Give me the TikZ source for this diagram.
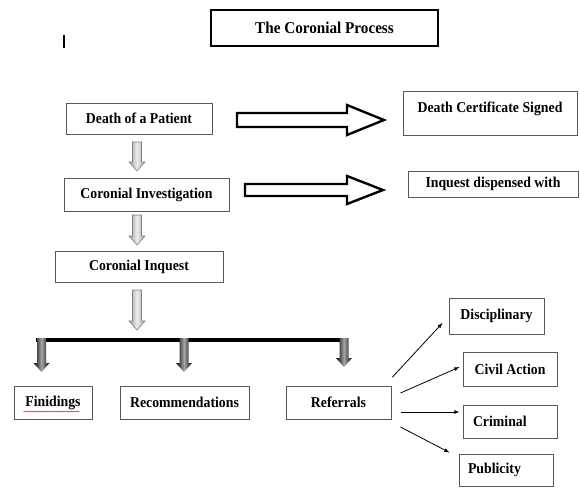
\documentclass[tikz,border=0pt]{standalone}
\usepackage{fontspec}
\setmainfont{Liberation Serif}[FakeStretch=0.92]
\usepackage{xcolor}
\usetikzlibrary{decorations.pathmorphing}
\definecolor{boxline}{rgb}{0.35,0.35,0.35}

% vertical block arrow: style, x, top, tip, half shaft
\newcommand{\vblockarrow}[5]{%
  \path[#1] (#2-#5,#3) -- (#2+#5,#3) -- (#2+#5,#4-9) -- (#2+8,#4-9) -- (#2,#4)
    -- (#2-8,#4-9) -- (#2-#5,#4-9) -- cycle;}

\begin{document}
\begin{tikzpicture}[x=1pt,y=-1pt,font=\fontsize{15}{17}\selectfont\bfseries]
    \useasboundingbox (0,0) rectangle (580,488);

    \tikzstyle{box}=[draw=boxline,line width=1pt,inner sep=0pt,align=center]
    \tikzstyle{title}=[draw=black,line width=2.5pt,minimum width=227pt,minimum height=36pt,font=\fontsize{16.5}{18}\selectfont\bfseries]
    \tikzstyle{hollow}=[draw=black,line width=2.4pt,fill=white,line join=miter]
    \tikzstyle{grey}=[draw=gray,line width=0.6pt,left color=gray!75,right color=gray!75,middle color=gray!15]
    \tikzstyle{dark}=[left color=black,right color=black,middle color=gray!70]
    \tikzstyle{fwd}=[draw=black,line width=0.8pt,-latex]

    \node[title] (title) at (324.5,28) {The Coronial Process};
    \draw[line width=1.2pt] (64,35) -- (64,48);

    \node[box,minimum width=146pt,minimum height=31pt] (death) at (139,118.5) {Death of a Patient};
    \node[box,minimum width=174pt,minimum height=44pt,text height=10pt,text depth=12pt] (cert) at (490,113) {Death Certificate Signed};
    \node[box,minimum width=165pt,minimum height=33pt] (invest) at (146.5,194.5) {Coronial Investigation};
    \node[box,minimum width=170pt,minimum height=26pt] (dispensed) at (493,184) {Inquest dispensed with};
    \node[box,minimum width=168pt,minimum height=31pt] (inquest) at (139,266.5) {Coronial Inquest};

    \node[box,minimum width=78pt,minimum height=33pt] (findings) at (53,402.5) {Finidings};
    \node[box,minimum width=129pt,minimum height=33pt] (recs) at (184.5,402.5) {Recommendations};
    \node[box,minimum width=105pt,minimum height=33pt] (referrals) at (338.5,402.5) {Referrals};

    \node[box,minimum width=95pt,minimum height=36pt] (discip) at (496.5,316) {Disciplinary};
    \node[box,minimum width=94pt,minimum height=34pt] (civil) at (510,369) {Civil Action};
    \node[box,minimum height=33pt,text width=74pt,inner xsep=10pt,align=left] (criminal) at (510,421.5) {Criminal};
    \node[box,minimum height=32pt,text width=76pt,inner xsep=9pt,align=left] (public) at (506,470) {Publicity};

    % spell check mark
    \draw[red,line width=0.5pt,decorate,decoration={snake,amplitude=0.6pt,segment length=2.5pt}]
      ([xshift=10pt,yshift=8pt]findings.south west) -- ([xshift=-13pt,yshift=8pt]findings.south east);

    % hollow arrows
    \draw[hollow] (237,113) -- (347,113) -- (347,105) -- (384,120) -- (347,135) -- (347,127) -- (237,127) -- cycle;
    \draw[hollow] (245,184) -- (347,184) -- (347,176) -- (383,190) -- (347,204) -- (347,196) -- (245,196) -- cycle;

    % grey arrows
    \vblockarrow{grey}{137}{142}{171}{4.5}
    \vblockarrow{grey}{137}{215}{245}{4.5}
    \vblockarrow{grey}{137}{290}{330}{4.5}

    % split bar
    \draw[line width=4pt] (36,339.5) -- (348,339.5);
    \vblockarrow{dark}{41.5}{338}{372}{4.5}
    \vblockarrow{dark}{184}{338}{372}{4.5}
    \vblockarrow{dark}{344}{338}{367}{4.5}

    \draw [fwd] ([xshift=1pt,yshift=25.5pt]referrals.east) -- ([xshift=-6pt,yshift=-7pt]discip.west);
    \draw [fwd] ([xshift=9pt,yshift=9.5pt]referrals.east) -- ([xshift=-3pt,yshift=2pt]civil.west);
    \draw [fwd] ([xshift=9pt,yshift=-9.5pt]referrals.east) -- ([xshift=-3pt,yshift=9.5pt]criminal.west);
    \draw [fwd] ([xshift=9pt,yshift=-24.5pt]referrals.east) -- ([xshift=-9pt,yshift=1pt]public.north west);

\end{tikzpicture}
\end{document}
